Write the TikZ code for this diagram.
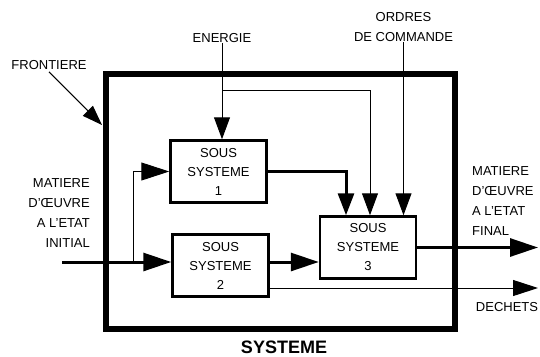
\documentclass[tikz,border=0pt]{standalone}
\usepackage{fontspec}
\setmainfont{Liberation Sans}
\usepackage{tikz}
\usetikzlibrary{arrows.meta,positioning}

\tikzset{
    >={Triangle[length=28pt,width=18pt]},
    petite/.style={-{Triangle[length=22pt,width=16pt]}},
    sousbox/.style={draw, line width=2.5pt, inner sep=0pt, align=center,
        minimum width=96pt, minimum height=62pt},
    etiq/.style={inner sep=0pt, font=\fontsize{13}{20}\selectfont},
    flux/.style={line width=3pt},
    fil/.style={line width=1pt}
}

\begin{document}
\begin{tikzpicture}[x=1pt,y=-1pt,font=\fontsize{13}{19}\selectfont]
    \useasboundingbox (0,0) rectangle (540,356);
    % frontiere du systeme
    \draw[line width=6pt] (105.5,73.5) rectangle (454.5,328.5);
    \node[font=\fontsize{18}{20}\selectfont\bfseries] (sys) at (284,347) {SYSTEME};
    \node[etiq] (front) at (49,65) {FRONTIERE};
    \coordinate (bord) at (102,125);
    \draw[fil,-{Triangle[length=20pt,width=14pt]}] (front.south) ++(0,2) coordinate (fr) -- (bord);

    % sous systemes
    \node[sousbox] (b1) at (218.5,171.5) {SOUS\\SYSTEME\\1};
    \node[sousbox] (b2) at (220.5,265.5) {SOUS\\SYSTEME\\2};
    \node[sousbox] (b3) at (368,247.5) {SOUS\\SYSTEME\\3};

    % entrees du haut
    \node[etiq] (energie) at (222,38) {ENERGIE};
    \node[etiq, align=center] (ordres) at (403.5,27) {ORDRES\\DE COMMANDE};
    \draw[fil,petite] (energie.south) -- (energie.south |- b1.north);
    \coordinate (eb) at (222,90);
    \draw[fil,petite] (eb) -| ([xshift=2pt]b3.north);
    \draw[fil,petite] (ordres.south) -- (ordres.south |- b3.north);
    \draw[flux,petite] (b1.east) -| ([xshift=-22pt]b3.north);

    % matiere d'oeuvre
    \node[etiq, anchor=east, align=right] (entree) at (90,213)
        {MATIERE\\D'ŒUVRE\\A L'ETAT\\INITIAL};
    \coordinate (src) at (62,262);
    \coordinate (jn) at (133,262);
    \draw[flux,->] (src) -- (src -| b2.west);
    \draw[fil,->] (jn) |- (b1.west);
    \draw[flux,->] (src -| b2.east) -- (src -| b3.west);

    % sorties
    \node[etiq, anchor=west, align=left] (sortie) at (472,201)
        {MATIERE\\D'ŒUVRE\\A L'ETAT\\FINAL};
    \coordinate (fin) at (538,247.5);
    \draw[flux,->] (b3.east) -- (fin);
    \coordinate (dech) at (538,288);
    \draw[fil,-{Triangle[length=25pt,width=16pt]}] (b2.east |- dech) -- (dech);
    \node[etiq] (dechets) at (507,307) {DECHETS};
\end{tikzpicture}
\end{document}
